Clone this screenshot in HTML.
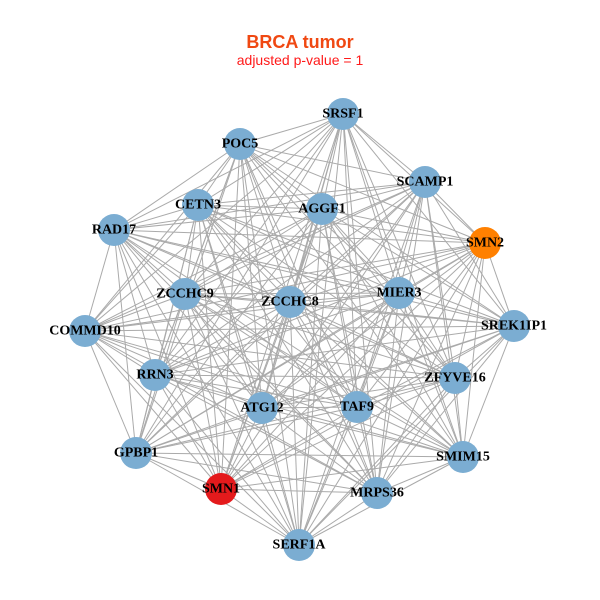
<!DOCTYPE html>
<html><head><meta charset="utf-8"><style>
html,body{margin:0;padding:0;background:#fff;}
svg{display:block;}
.l{font-family:"Liberation Serif",serif;font-weight:bold;font-size:14px;fill:#000;text-anchor:middle;dominant-baseline:central;}
</style></head><body>
<svg id="s" width="600" height="600" viewBox="0 0 600 600">
<g id="e" stroke="#aaaaaa" stroke-width="1"></g>
<g id="n"></g>
<text x="300" y="48" text-anchor="middle" font-family="Liberation Sans,sans-serif" font-weight="bold" font-size="18" fill="#F04812">BRCA tumor</text>
<text x="300" y="65" text-anchor="middle" font-family="Liberation Sans,sans-serif" font-size="14" fill="#FF1A1A">adjusted p-value = 1</text>
<g id="t">
<text class="l" x="343" y="114">SRSF1</text>
<text class="l" x="240" y="144">POC5</text>
<text class="l" x="425" y="182">SCAMP1</text>
<text class="l" x="198" y="205">CETN3</text>
<text class="l" x="322" y="209">AGGF1</text>
<text class="l" x="114" y="230">RAD17</text>
<text class="l" x="485" y="243">SMN2</text>
<text class="l" x="185" y="294">ZCCHC9</text>
<text class="l" x="290" y="302">ZCCHC8</text>
<text class="l" x="399" y="293">MIER3</text>
<text class="l" x="85" y="331">COMMD10</text>
<text class="l" x="514" y="326">SREK1IP1</text>
<text class="l" x="155" y="375">RRN3</text>
<text class="l" x="455" y="378">ZFYVE16</text>
<text class="l" x="262" y="408">ATG12</text>
<text class="l" x="357" y="407">TAF9</text>
<text class="l" x="136" y="453">GPBP1</text>
<text class="l" x="463" y="457">SMIM15</text>
<text class="l" x="221" y="489">SMN1</text>
<text class="l" x="377" y="493">MRPS36</text>
<text class="l" x="299" y="545">SERF1A</text>
</g>
</svg>
<script>
var P=[[343,114],[240,144],[425,182],[198,205],[322,209],[114,230],[485,243],[185,294],[290,302],[399,293],[85,331],[514,326],[155,375],[455,378],[262,408],[357,407],[136,453],[463,457],[221,489],[377,493],[299,545]];
var C={6:"#FF8000",18:"#E41A1C"};
var ns="http://www.w3.org/2000/svg",e=document.getElementById("e"),n=document.getElementById("n");
for(var i=0;i<P.length;i++)for(var j=i+1;j<P.length;j++){var l=document.createElementNS(ns,"line");l.setAttribute("x1",P[i][0]);l.setAttribute("y1",P[i][1]);l.setAttribute("x2",P[j][0]);l.setAttribute("y2",P[j][1]);e.appendChild(l);}
for(var i=0;i<P.length;i++){var c=document.createElementNS(ns,"circle");c.setAttribute("cx",P[i][0]);c.setAttribute("cy",P[i][1]);c.setAttribute("r",16);c.setAttribute("fill",C[i]||"#7BADD2");n.appendChild(c);}
</script>
</body></html>
